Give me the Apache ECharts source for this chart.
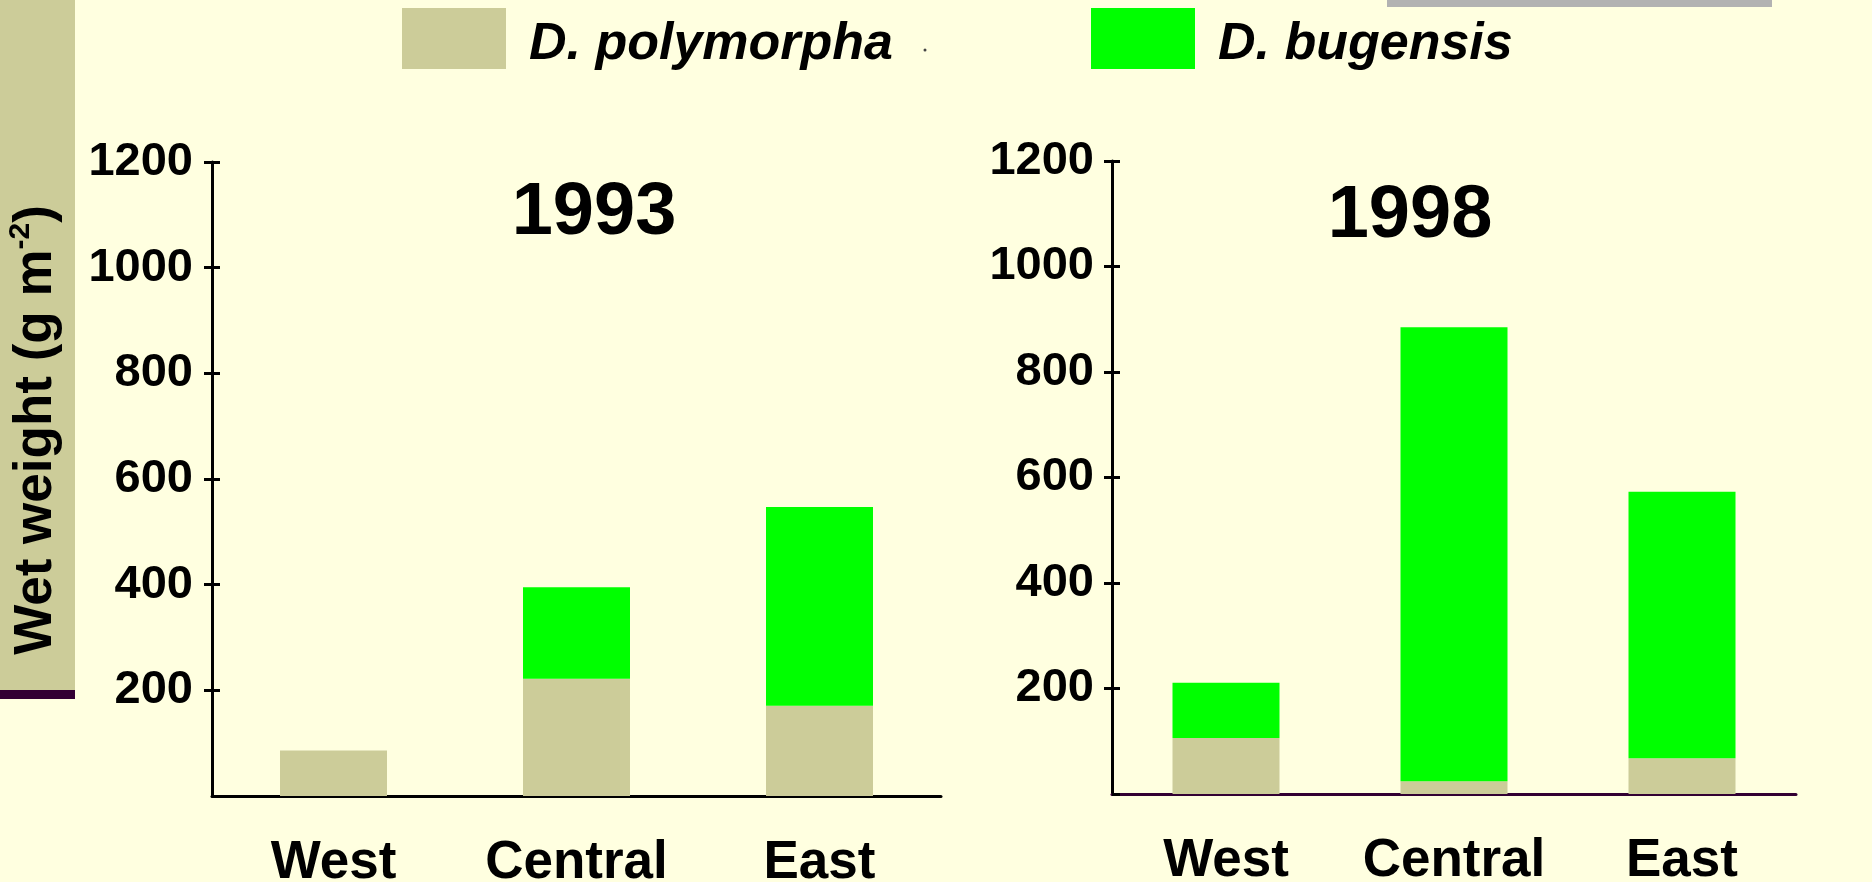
<!DOCTYPE html>
<html>
<head>
<meta charset="utf-8">
<title>Wet weight 1993 / 1998</title>
<script src="https://cdn.jsdelivr.net/npm/echarts@6/dist/echarts.min.js"></script>
<style>
	html, body { margin: 0; padding: 0; background: #ffffe0; }
	#main { width: 1872px; height: 882px; }
</style>
</head>
<body>
<div id="main"></div>
<script>
// 数据
var regions = ['West', 'Central', 'East'];
var seriesNames = ['D. polymorpha', 'D. bugensis'];
var yearTitles = ['1993', '1998'];
var polymorpha1993 = [86, 222, 171];
var bugensis1993 = [0, 173, 376];
var polymorpha1998 = [106, 24, 68];
var bugensis1998 = [105, 861, 505];
var yMin = 0, yMax = 1200, yStep = 200;

var FONT = '"Liberation Sans", Arial, sans-serif';
var BEIGE = '#cccc99';
var GREEN = '#00ff00';

var chartJs = {
	init: function() {
		var chart = echarts.init(document.getElementById('main'));
		chart.setOption(this.option());
	},

	// 主 y 轴 (刻度朝外 + 标签)
	yAxisMain: function(grid, margin) {
		return {
			type: 'value', gridIndex: grid, position: 'left',
			min: yMin, max: yMax, interval: yStep,
			axisLine: { show: true, lineStyle: { color: '#000', width: 3 } },
			axisTick: { show: true, length: 8, lineStyle: { color: '#000', width: 3 } },
			splitLine: { show: false },
			axisLabel: {
				showMinLabel: false, margin: margin,
				color: '#000', fontSize: 47, fontWeight: 'bold', fontFamily: FONT,
				padding: [10, 0, 0, 0],
				formatter: function(v) { return String(v); }
			}
		};
	},

	// 副 y 轴, 只画朝内的刻度
	yAxisInner: function(grid) {
		return {
			type: 'value', gridIndex: grid, position: 'left', offset: 0,
			min: yMin, max: yMax, interval: yStep,
			axisLine: { show: false },
			axisTick: { show: true, inside: true, length: 8, lineStyle: { color: '#000', width: 3 } },
			axisLabel: { show: false },
			splitLine: { show: false }
		};
	},

	xAxis: function(grid, lineColor) {
		return {
			type: 'category', gridIndex: grid, data: regions,
			axisLine: { show: true, lineStyle: { color: lineColor, width: 3 } },
			axisTick: { show: false },
			axisLabel: { interval: 0, margin: 41, color: '#000', fontSize: 53, fontWeight: 'bold', fontFamily: FONT }
		};
	},

	bar: function(name, data, color, axisIdx, yIdx, stack) {
		return {
			name: name, type: 'bar', stack: stack,
			xAxisIndex: axisIdx, yAxisIndex: yIdx,
			barWidth: 107, data: data,
			itemStyle: { color: color },
			emphasis: { disabled: true }
		};
	},

	// 图例 (文字略下移)
	legend: function(name, left) {
		return {
			data: [name], left: left, top: 8, padding: 0,
			icon: 'rect', itemWidth: 104, itemHeight: 61,
			selectedMode: false,
			formatter: '{t|{name}}',
			textStyle: {
				rich: {
					t: {
						color: '#000', fontSize: 52, fontWeight: 'bold', fontStyle: 'italic',
						fontFamily: FONT, padding: [12, 0, 0, 18]
					}
				}
			}
		};
	},

	option: function() {
		var _this = this;
		return {
			backgroundColor: '#ffffe0',
			animation: false,
			legend: [_this.legend(seriesNames[0], 402), _this.legend(seriesNames[1], 1091)],
			grid: [
				{ left: 212, top: 162, width: 729, height: 634, outerBoundsMode: 'none' },
				{ left: 1112, top: 161, width: 684, height: 633, outerBoundsMode: 'none' }
			],
			xAxis: [_this.xAxis(0, '#000'), _this.xAxis(1, '#330033')],
			yAxis: [_this.yAxisMain(0, 19), _this.yAxisInner(0), _this.yAxisMain(1, 18), _this.yAxisInner(1)],
			series: [
				_this.bar(seriesNames[0], polymorpha1993, BEIGE, 0, 0, 'y1993'),
				_this.bar(seriesNames[1], bugensis1993, GREEN, 0, 0, 'y1993'),
				_this.bar(seriesNames[0], polymorpha1998, BEIGE, 1, 2, 'y1998'),
				_this.bar(seriesNames[1], bugensis1998, GREEN, 1, 2, 'y1998')
			],
			graphic: [
				// 左侧色条 + y 轴名称
				{ type: 'rect', shape: { x: 0, y: 0, width: 75, height: 690 }, style: { fill: BEIGE }, silent: true },
				{ type: 'rect', shape: { x: 0, y: 690, width: 75, height: 9 }, style: { fill: '#330033' }, silent: true },
				{
					type: 'text', x: 36, y: 430, rotation: Math.PI / 2, silent: true,
					style: {
						text: '{a|Wet weight (g m}{s|-2}{a|)}',
						align: 'center', verticalAlign: 'middle',
						rich: {
							a: { fontSize: 53, fontWeight: 'bold', fontFamily: FONT, fill: '#000', lineHeight: 60 },
							s: { fontSize: 30, fontWeight: 'bold', fontFamily: FONT, fill: '#000', lineHeight: 36, verticalAlign: 'top' }
						}
					}
				},
				// 顶部灰条
				{ type: 'rect', shape: { x: 1387, y: 0, width: 385, height: 7 }, style: { fill: '#b2b2b2' }, silent: true },
				{ type: 'circle', shape: { cx: 925, cy: 50, r: 1.5 }, style: { fill: '#444' }, silent: true },
				// 年份标题
				{
					type: 'text', x: 594, y: 214, silent: true,
					style: { text: yearTitles[0], align: 'center', verticalAlign: 'middle', fontSize: 74, fontWeight: 'bold', fontFamily: FONT, fill: '#000' }
				},
				{
					type: 'text', x: 1410, y: 217, silent: true,
					style: { text: yearTitles[1], align: 'center', verticalAlign: 'middle', fontSize: 74, fontWeight: 'bold', fontFamily: FONT, fill: '#000' }
				}
			]
		};
	}
};

chartJs.init();
</script>
</body>
</html>
